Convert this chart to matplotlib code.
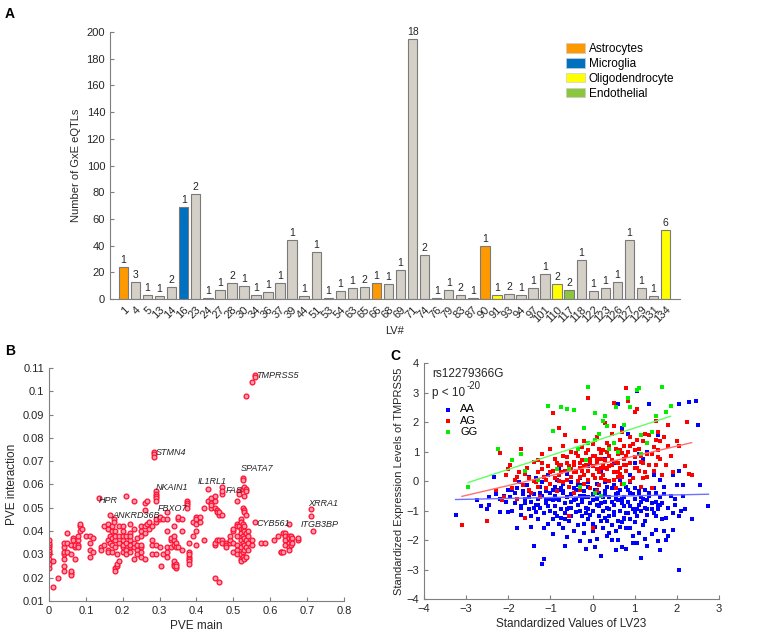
import numpy as np
import matplotlib.pyplot as plt
from matplotlib.patches import Patch

plt.rcParams['font.family'] = ['Liberation Sans', 'DejaVu Sans']
plt.rcParams['font.size'] = 8

# ---- panel A data ----
lv_ids = ['1', '4', '5', '13', '14', '16', '23', '24', '27', '28', '30', '34', '36', '37', '39',
          '44', '51', '53', '54', '63', '65', '66', '68', '69', '71', '74', '76', '79', '83', '87',
          '90', '91', '93', '94', '97', '101', '110', '117', '118', '122', '123', '126', '127',
          '129', '131', '134']
n_eqtl = [24, 13, 3, 2, 9, 69, 79, 1, 7, 12, 10, 3, 5, 12, 44,
          2, 35, 1, 6, 8, 9, 12, 11, 22, 195, 33, 1, 7, 3, 1,
          40, 3, 4, 3, 8, 19, 11, 7, 29, 6, 8, 13, 44,
          8, 2, 52]
n_genes = [1, 3, 1, 1, 2, 1, 2, 1, 1, 2, 1, 1, 1, 1, 1,
           1, 1, 1, 1, 1, 2, 1, 1, 1, 18, 2, 1, 1, 2, 1,
           1, 1, 2, 1, 1, 1, 2, 2, 1, 1, 1, 1, 1,
           1, 1, 6]
cell_type = {'1': 'Astrocytes', '16': 'Microglia', '53': 'Endothelial', '66': 'Astrocytes',
             '87': 'Astrocytes', '90': 'Astrocytes', '91': 'Oligodendrocyte',
             '110': 'Oligodendrocyte', '117': 'Endothelial', '134': 'Oligodendrocyte'}
type_names = ['Astrocytes', 'Microglia', 'Oligodendrocyte', 'Endothelial']
type_colors = {'Astrocytes': '#ff9900', 'Microglia': '#0070c0',
               'Oligodendrocyte': '#ffff00', 'Endothelial': '#8cc63f'}

# ---- panel B data (PVE main, PVE interaction) ----
pve_main = [0.0, 0.0, 0.0, 0.0, 0.0, 0.0, 0.0, 0.0, 0.0, 0.0, 0.01, 0.01, 0.025,
            0.04, 0.04, 0.04, 0.04, 0.04, 0.04, 0.04, 0.05, 0.05, 0.05,
            0.06, 0.06, 0.06, 0.06, 0.06, 0.065, 0.065, 0.07, 0.07, 0.07,
            0.08, 0.08, 0.08, 0.08, 0.085, 0.085, 0.085, 0.09, 0.1,
            0.11, 0.11, 0.11, 0.11, 0.12, 0.12, 0.135, 0.14, 0.14, 0.15, 0.15,
            0.16, 0.16, 0.16, 0.16, 0.16, 0.165, 0.165, 0.165, 0.17, 0.17, 0.17, 0.17, 0.17,
            0.175, 0.175, 0.18, 0.18, 0.18, 0.18, 0.18, 0.18, 0.185, 0.185, 0.185,
            0.19, 0.19, 0.19, 0.19, 0.2, 0.2, 0.2, 0.2, 0.2, 0.2, 0.2,
            0.21, 0.21, 0.21, 0.21, 0.21, 0.22, 0.22, 0.22, 0.22, 0.22, 0.22, 0.22,
            0.23, 0.23, 0.23, 0.23, 0.23, 0.24, 0.24, 0.24, 0.24,
            0.25, 0.25, 0.25, 0.25, 0.25, 0.25, 0.25, 0.26, 0.26, 0.26, 0.26, 0.26,
            0.265, 0.265, 0.27, 0.27, 0.28, 0.28, 0.28, 0.28, 0.285, 0.285, 0.285,
            0.29, 0.29, 0.29, 0.29, 0.29, 0.29, 0.29, 0.29, 0.29, 0.3, 0.3, 0.3, 0.305,
            0.31, 0.31, 0.32, 0.32, 0.32, 0.32, 0.32, 0.32, 0.33, 0.33, 0.33,
            0.34, 0.34, 0.34, 0.34, 0.34, 0.34, 0.34, 0.345, 0.345, 0.345, 0.345, 0.345,
            0.35, 0.35, 0.35, 0.36, 0.36, 0.36, 0.375, 0.375, 0.375, 0.375,
            0.38, 0.38, 0.38, 0.38, 0.38, 0.38, 0.38, 0.39, 0.39,
            0.4, 0.4, 0.4, 0.4, 0.4, 0.41, 0.41, 0.42, 0.42, 0.43, 0.43,
            0.44, 0.44, 0.44, 0.44, 0.45, 0.45, 0.45, 0.45, 0.45, 0.45, 0.455, 0.455, 0.455,
            0.46, 0.46, 0.46, 0.46, 0.47, 0.47, 0.47, 0.47, 0.47, 0.47, 0.48, 0.48, 0.48,
            0.49, 0.49, 0.49, 0.5, 0.5, 0.5, 0.5,
            0.51, 0.51, 0.51, 0.51, 0.51, 0.51, 0.51, 0.515, 0.515, 0.515,
            0.52, 0.52, 0.52, 0.52, 0.52, 0.52, 0.52, 0.52, 0.52,
            0.525, 0.525, 0.525, 0.525, 0.525, 0.525, 0.525, 0.525, 0.525, 0.525,
            0.53, 0.53, 0.53, 0.53, 0.53, 0.53, 0.53, 0.53, 0.53, 0.53,
            0.535, 0.535, 0.535, 0.535, 0.535, 0.535, 0.535, 0.535,
            0.54, 0.54, 0.54, 0.54, 0.55, 0.55, 0.55, 0.56, 0.56, 0.56,
            0.575, 0.585, 0.61, 0.62, 0.63, 0.63, 0.635, 0.635,
            0.64, 0.64, 0.64, 0.64, 0.65, 0.65, 0.65, 0.65, 0.65, 0.65,
            0.655, 0.655, 0.655, 0.66, 0.66, 0.675, 0.675, 0.71, 0.71, 0.715]
pve_inter = [0.024, 0.026, 0.028, 0.03, 0.031, 0.032, 0.033, 0.034, 0.035, 0.036, 0.016, 0.027, 0.02,
             0.023, 0.025, 0.028, 0.03, 0.031, 0.033, 0.035, 0.035, 0.031, 0.039,
             0.034, 0.03, 0.022, 0.021, 0.023, 0.037, 0.036, 0.028, 0.033, 0.034,
             0.036, 0.038, 0.034, 0.033, 0.042, 0.04, 0.043, 0.041, 0.038,
             0.038, 0.035, 0.029, 0.032, 0.031, 0.037, 0.054, 0.033, 0.032, 0.034, 0.042,
             0.041, 0.043, 0.036, 0.032, 0.031, 0.047, 0.038, 0.035, 0.04, 0.037, 0.034, 0.031, 0.042,
             0.045, 0.044, 0.024, 0.023, 0.036, 0.033, 0.04, 0.038, 0.025, 0.026, 0.03,
             0.027, 0.035, 0.042, 0.038, 0.031, 0.033, 0.034, 0.036, 0.038, 0.04, 0.042,
             0.055, 0.032, 0.035, 0.038, 0.03, 0.043, 0.039, 0.036, 0.033, 0.031, 0.034, 0.038,
             0.053, 0.028, 0.041, 0.033, 0.035, 0.032, 0.034, 0.03, 0.037,
             0.042, 0.04, 0.038, 0.033, 0.029, 0.031, 0.034, 0.052, 0.049, 0.042, 0.039, 0.028,
             0.053, 0.043, 0.044, 0.041, 0.042, 0.034, 0.03, 0.036, 0.074, 0.073, 0.072,
             0.057, 0.056, 0.055, 0.054, 0.053, 0.044, 0.045, 0.03, 0.034, 0.045, 0.046, 0.033, 0.025,
             0.045, 0.03, 0.048, 0.045, 0.04, 0.033, 0.031, 0.029, 0.033, 0.036, 0.037,
             0.034, 0.026, 0.025, 0.027, 0.036, 0.038, 0.042, 0.026, 0.024, 0.025, 0.035, 0.033,
             0.045, 0.046, 0.033, 0.045, 0.032, 0.04, 0.053, 0.052, 0.051, 0.05,
             0.035, 0.031, 0.029, 0.028, 0.027, 0.026, 0.03, 0.044, 0.038,
             0.046, 0.045, 0.043, 0.04, 0.034, 0.044, 0.046, 0.05, 0.036, 0.058, 0.053,
             0.054, 0.052, 0.05, 0.051, 0.053, 0.05, 0.055, 0.034, 0.035, 0.02, 0.049, 0.048, 0.036,
             0.018, 0.036, 0.047, 0.048, 0.059, 0.056, 0.057, 0.047, 0.036, 0.035, 0.035, 0.034, 0.033,
             0.035, 0.036, 0.038, 0.031, 0.035, 0.04, 0.041,
             0.053, 0.043, 0.042, 0.038, 0.034, 0.032, 0.03, 0.057, 0.056, 0.042,
             0.045, 0.044, 0.041, 0.039, 0.036, 0.033, 0.028, 0.027, 0.03,
             0.063, 0.062, 0.058, 0.05, 0.043, 0.041, 0.038, 0.035, 0.031, 0.029,
             0.059, 0.055, 0.049, 0.048, 0.042, 0.04, 0.037, 0.034, 0.032, 0.028,
             0.098, 0.058, 0.057, 0.047, 0.039, 0.036, 0.033, 0.029,
             0.04, 0.038, 0.035, 0.032, 0.104, 0.034, 0.036, 0.107, 0.106, 0.044,
             0.035, 0.035, 0.036, 0.038, 0.031, 0.031, 0.039, 0.031,
             0.039, 0.038, 0.036, 0.034, 0.043, 0.038, 0.037, 0.035, 0.033, 0.032,
             0.038, 0.036, 0.034, 0.037, 0.035, 0.036, 0.037, 0.0495, 0.0465, 0.04]
gene_names = ['TMPRSS5', 'STMN4', 'SPATA7', 'IL1RL1', 'FAS', 'NKAIN1', 'HPR', 'FBXO7',
              'ANKRD36B', 'XRRA1', 'CYB561', 'ITGB3BP']
gene_x = [0.563, 0.289, 0.519, 0.403, 0.479, 0.290, 0.136, 0.294, 0.171, 0.703, 0.564, 0.682]
gene_y = [0.1066, 0.0737, 0.0668, 0.0615, 0.0575, 0.0589, 0.0532, 0.0499, 0.0468, 0.0518, 0.0432, 0.0428]

# ---- panel C data (LV23 value, TMPRSS5 expression) ----
aa_x = [-3.25, -2.75, -2.65, -2.45, -2.45, -2.35, -2.2, -2.1, -2.05, -2.0, -1.95, -1.9, -1.85, -1.8,
        -1.8, -1.75, -1.7, -1.7, -1.65, -1.6, -1.6, -1.55, -1.5, -1.5, -1.45, -1.45, -1.4, -1.4, -1.35,
        -1.35, -1.3, -1.3, -1.25, -1.25, -1.2, -1.2, -1.15, -1.15, -1.1, -1.1, -1.05, -1.05, -1.0, -1.0,
        -0.95, -0.95, -0.9, -0.9, -0.85, -0.85, -0.8, -0.8, -0.75, -0.75, -0.7, -0.7, -0.65, -0.65,
        -0.6, -0.6, -0.55, -0.55, -0.5, -0.5, -0.45, -0.45, -0.4, -0.4, -0.35, -0.35, -0.3, -0.3,
        -0.25, -0.25, -0.2, -0.2, -0.15, -0.15, -0.1, -0.1, -0.05, -0.05, 0.0, 0.0, 0.05, 0.05,
        0.1, 0.1, 0.15, 0.15, 0.2, 0.2, 0.25, 0.25, 0.3, 0.3, 0.35, 0.35, 0.4, 0.4, 0.45, 0.45,
        0.5, 0.5, 0.55, 0.55, 0.6, 0.6, 0.65, 0.65, 0.7, 0.7, 0.75, 0.75, 0.8, 0.8, 0.85, 0.85,
        0.9, 0.9, 0.95, 0.95, 1.0, 1.0, 1.05, 1.05, 1.1, 1.1, 1.15, 1.15, 1.2, 1.2, 1.25, 1.25,
        1.3, 1.3, 1.35, 1.4, 1.4, 1.45, 1.5, 1.5, 1.55, 1.6, 1.6, 1.65, 1.7, 1.7, 1.75, 1.8, 1.8,
        1.85, 1.9, 1.95, 2.0, 2.05, 2.05, 2.1, 2.15, 2.2, 2.35, 2.55, 2.75,
        -0.1, 0.2, 0.5, 0.65, 0.9, 1.0, 1.2, 1.3, 1.45, 1.1, 0.7, 0.6, 1.05, 1.35, 2.05, 2.3,
        2.45, 2.5, 0.85, 1.55, -0.4, -0.8, -1.5, 2.05, 2.15, 1.9, 1.6, 0.3,
        -0.9, -0.7, -0.5, -0.3, -0.1, 0.1, 0.3, 0.5, 0.7, 0.9, -0.95, -0.6, -0.2, 0.0, 0.3, 0.6,
        0.9, 1.1, -0.5, -0.1, 0.2, 0.4, 0.7, 1.0, 1.3, 1.5, -1.2, -1.6, -1.8, -2.2, -2.0, -0.3,
        0.45, 0.1, -0.65, 0.8, 1.55, 0.95,
        -1.9, -1.7, -1.5, -1.3, -1.1, -0.9, -0.7, -0.5, -0.3, -0.1, 0.1, 0.3, 0.5, 0.7, 0.9, 1.1,
        1.3, 1.5, 1.7, 1.9,
        -1.85, -1.65, -1.45, -1.25, -1.05, -0.85, -0.65, -0.45, -0.25, -0.05, 0.15, 0.35, 0.55, 0.75,
        0.95, 1.15, 1.35, 1.55, 1.75, 1.95,
        -1.55, -1.35, -1.15, -0.95, -0.75, -0.55, -0.35, -0.15, 0.05, 0.25, 0.45, 0.65, 0.85, 1.05,
        1.25, 1.45, 1.65, 0.0, 0.4, 0.8,
        -1.0, -0.6, -0.2, 0.2, 0.6, 1.0, 1.4, -1.4, -0.8, -0.4, 0.0, 0.35, 0.75, 1.15, 1.6, -2.3,
        -2.5, -0.15, 0.55, 1.25]
aa_y = [-1.15, -0.65, -0.85, -0.55, -0.8, 0.15, -0.6, -0.5, -0.7, -1.05, -0.55, -1.0, -0.4, -1.6,
        -0.25, -0.05, -0.85, -1.15, -0.45, -0.6, -1.25, -0.15, -0.95, -0.35, -1.55, -0.7, -2.2, -0.45, -1.05,
        0.1, -0.6, -1.3, -0.2, -0.9, -2.8, -0.5, -2.65, -1.1, -0.35, -0.75, -1.45, 0.2, -0.6, -1.0,
        -0.3, -1.8, -0.85, -0.5, -1.2, 0.05, -0.65, -1.45, -0.25, -0.95, -1.6, -0.4, -0.75, -1.1,
        -0.55, 0.25, -1.35, -0.2, -0.9, -0.45, -1.7, -0.65, -1.05, -0.3, -0.8, -1.5, -0.5, 0.1,
        -1.2, -0.7, -0.35, -1.75, -0.9, -0.55, -1.3, -0.2, -2.05, -0.75, -1.0, -0.45, -2.25, -1.55,
        -0.6, -0.3, -1.2, -0.85, -2.55, -0.5, -1.6, -1.0, -0.35, -0.7, -1.35, -1.85, -0.55, -0.95, -1.5, -0.25,
        -0.8, -1.15, -0.45, -1.7, -0.65, -2.0, -1.0, -0.3, -1.4, -2.25, -0.55, -0.85, -1.6, -0.2, -1.1, -0.7,
        -0.4, -1.3, -0.95, -1.85, -0.6, -0.25, -2.1, -1.2, -0.8, -0.45, -2.6, -1.0, -0.6, -1.5, -0.3, -0.9,
        -1.15, -2.2, -0.5, -0.75, -1.8, -1.1, -0.4, -1.65, -0.85, -2.35, -0.55, -1.3, -1.7, -0.2, -2.0, -0.9, -1.85,
        -0.5, -1.65, -0.8, -0.15, -3.0, -1.2, -1.0, -0.5, -0.95, -1.3, -0.15, -0.85,
        0.5, 0.3, 0.6, 0.05, 0.2, 0.6, 0.75, 1.0, 0.2, 0.9, 1.8, 2.6, 3.05, 2.6, 2.62, 2.68,
        2.72, 1.9, 1.6, 1.55, 0.35, 0.4, 0.15, 0.35, -0.15, 0.2, 0.05, 0.75,
        -0.2, -0.1, -0.05, -0.15, -0.05, -0.1, -0.05, -0.15, -0.1, -0.05, -1.3, -1.9, -1.45, -1.7, -1.25, -1.35,
        -1.6, -1.75, -1.2, -0.95, -0.75, -1.2, -0.75, -1.05, -0.65, -1.2, -0.05, -0.75, -0.6, -1.05, -0.3, -2.05,
        -2.0, -1.95, -2.2, -2.3, -2.05, -2.1,
        -0.3, -0.9, -0.55, -0.8, -0.6, -1.1, -0.35, -0.7, -1.0, -0.55, -0.8, -0.45, -1.05, -0.6, -0.85, -0.35,
        -0.95, -0.7, -0.45, -1.1,
        -0.75, -0.35, -1.2, -0.4, -0.85, -0.6, -1.3, -0.25, -0.6, -1.15, -0.4, -0.9, -0.6, -1.25,
        -0.45, -0.7, -0.4, -0.95, -1.25, -0.6,
        -0.15, -0.8, -1.6, -0.65, -1.25, -0.9, -0.15, -1.1, -0.3, -0.55, -0.7, -1.55, -0.3, -0.95,
        -1.35, -0.25, -0.75, -1.45, -1.75, -1.1,
        -0.4, -0.95, -0.5, -1.35, -0.4, -1.4, -0.95, -0.9, -0.3, -0.6, -0.65, -0.2, -1.3, -0.55, -0.8, -0.45,
        -0.95, -2.3, -2.35, -1.95]
ag_x = [-3.1, -2.5, -2.3, -2.2, -2.15, -2.1, -2.05, -1.95, -1.9, -1.85, -1.8, -1.75, -1.7, -1.65,
        -1.6, -1.55, -1.5, -1.45, -1.4, -1.35, -1.3, -1.25, -1.2, -1.15, -1.1, -1.05, -1.0, -1.0,
        -0.95, -0.95, -0.9, -0.85, -0.8, -0.8, -0.75, -0.7, -0.7, -0.65, -0.65, -0.6, -0.55, -0.55,
        -0.5, -0.5, -0.45, -0.45, -0.4, -0.4, -0.35, -0.35, -0.3, -0.3, -0.25, -0.25, -0.2, -0.2,
        -0.15, -0.15, -0.1, -0.1, -0.05, -0.05, 0.0, 0.0, 0.05, 0.05, 0.1, 0.1, 0.15, 0.15, 0.2, 0.2,
        0.25, 0.25, 0.3, 0.3, 0.35, 0.35, 0.4, 0.4, 0.45, 0.45, 0.5, 0.5, 0.5, 0.55, 0.55, 0.6, 0.6,
        0.65, 0.65, 0.7, 0.7, 0.75, 0.75, 0.8, 0.8, 0.85, 0.85, 0.9, 0.9, 0.95, 0.95, 1.0, 1.0,
        1.05, 1.05, 1.1, 1.15, 1.15, 1.2, 1.25, 1.3, 1.35, 1.35, 1.4, 1.45, 1.5, 1.5, 1.55, 1.55,
        1.6, 1.65, 1.75, 1.8, 1.85, 1.9, 2.0, 2.05, 2.2, 2.25, 2.3, 2.35,
        -0.6, -0.3, 0.0, 0.2, 0.4, 0.6, 0.8, 1.0, -0.8, -1.2, 0.1, 0.3, 0.55, 0.9, 1.2, -0.1,
        -0.45, 0.65, 0.15, -0.2, 0.0, -0.55,
        -1.6, -1.4, -1.2, -1.0, -0.8, -0.6, -0.4, -0.2, 0.0, 0.2, 0.4, 0.6, 0.8, 1.0, 1.2, 1.4,
        1.6, 1.8, 0.1, 0.7,
        -1.5, -1.3, -1.1, -0.9, -0.7, -0.5, -0.3, -0.1, 0.1, 0.3, 0.5, 0.7, 0.9, 1.1, 1.3, 1.5,
        1.7, -0.75, 0.45, 1.25,
        -2.0, -1.8, -1.3, -0.85, -0.45, -0.05, 0.35, 0.75, 1.15, 1.55, -0.25, 0.25, 0.65, 1.05, 1.45]
ag_y = [-1.5, -1.35, -0.3, 0.95, -0.65, -0.55, 0.2, 0.55, -0.25, 0.05, -0.6, 0.3, 1.1, -0.15,
        -1.25, 0.45, 0.1, -0.4, 0.65, -0.05, 0.3, -0.55, 0.9, 0.15, -0.25, 0.5, 1.1, -0.1,
        0.35, 2.3, 0.75, -0.35, 0.2, 1.8, 0.55, -0.05, 1.2, 0.35, 1.55, 0.8, -0.2, 0.5,
        0.15, 1.0, 0.65, -0.4, 0.3, 1.35, 0.0, 0.85, 0.45, -0.3, 0.7, 1.15, 0.2, -0.1,
        0.55, 0.95, 2.8, 0.35, 0.75, -0.25, 0.5, 1.25, 0.1, 0.85, 0.6, 1.5, 0.3, -0.15, 0.95, 0.45,
        1.05, 0.2, 0.7, 1.95, 0.4, 1.3, 0.0, 0.85, 0.55, 1.6, 1.85, 0.3, 2.65, 1.1, 0.65, 0.15, 0.9,
        1.4, 0.45, 1.65, -0.1, 0.75, 1.2, 3.15, 0.35, 2.7, 1.0, 0.6, 1.5, 0.1, 1.25, 2.35, 0.8,
        2.45, 0.45, 1.1, -0.2, 0.65, 1.35, 0.3, 0.9, 1.55, 0.55, -0.25, 1.15, 1.4, 2.05, 1.65, 0.8,
        1.35, 0.2, 0.55, 1.9, 0.85, 0.3, 1.35, 1.2, 0.5, 2.0, 0.25, 0.2,
        0.05, 0.6, 0.2, 0.75, 0.5, 0.6, 0.85, 0.45, 0.55, 0.4, -0.35, 0.05, -0.25, 0.0, 0.1, 0.05,
        0.3, 1.05, 1.1, 1.35, -1.6, -1.2,
        0.25, 0.0, 0.6, 0.3, 0.0, 0.6, 0.95, 0.5, 0.85, 0.1, 1.2, 0.3, 0.55, 1.05, 0.6, 0.9,
        0.75, 1.2, 0.4, 0.15,
        -0.3, 0.7, 0.05, 0.1, 0.85, 0.4, 0.15, 1.05, 0.75, 0.45, 0.05, 0.95, 1.2, 0.35, 0.15, 0.55,
        1.5, 0.3, 0.7, 1.6,
        0.4, 0.15, -0.2, 0.6, 0.55, 0.6, 1.0, 0.55, 0.85, 1.05, 0.35, 0.55, 0.25, 1.4, 0.35]
gg_x = [-2.95, -2.25, -1.9, -1.7, -1.6, -1.3, -1.05, -0.95, -0.75, -0.6, -0.45, -0.35, -0.2, -0.1,
        -0.1, 0.05, 0.05, 0.15, 0.25, 0.3, 0.35, 0.4, 0.55, 0.6, 0.75, 0.85, 0.9, 1.05, 1.1, 1.15,
        1.3, 1.4, 1.5, 1.65, 1.75, 1.85, -0.55, -0.3, 0.05, 0.2, -0.15, 0.75, 1.15, 0.5, -0.85]
gg_y = [-0.2, 1.1, 0.7, 0.9, 0.35, 0.05, 2.55, 1.7, 2.5, 2.45, 2.4, 1.1, 1.8, 3.2,
        1.3, 1.4, 2.3, 1.6, 2.05, 2.2, 1.85, 1.1, 2.5, 1.0, 1.9, 2.8, 2.5, 3.1, 3.15, 1.55,
        1.3, 1.65, 2.2, 3.2, 2.35, 2.55, 0.4, -0.2, -0.4, -0.5, 0.7, -0.1, 0.9, 1.3, 0.4]
# regression lines: slope, intercept
fit_coef = {'AA': (0.03, -0.53), 'AG': (0.334, 0.515), 'GG': (0.468, 1.33)}

gray_axis = '#7f7f7f'
txt = '#262626'


def style_axes(ax):
    for s in ['top', 'right']:
        ax.spines[s].set_visible(False)
    for s in ['left', 'bottom']:
        ax.spines[s].set_color(gray_axis)
        ax.spines[s].set_linewidth(0.8)
    ax.tick_params(direction='in', length=3, width=0.8, color=gray_axis,
                   labelcolor=txt, labelsize=8)


fig = plt.figure(figsize=(7.57, 6.33), dpi=100)

# ---------------- A ----------------
axA = fig.add_axes([0.1453, 0.5276, 0.753, 0.4218])
pos = np.arange(len(lv_ids))
bar_colors = [type_colors.get(cell_type.get(k), '#d4d0c8') for k in lv_ids]
axA.bar(pos, n_eqtl, width=0.78, color=bar_colors, edgecolor='#7a7a7a', linewidth=0.8)
for p, v, g in zip(pos, n_eqtl, n_genes):
    axA.text(p, v + 1.5, str(g), ha='center', va='bottom', fontsize=7.5, color=txt)
axA.set_xlim(-1.12, len(lv_ids) - 1 + 1.2)
axA.set_ylim(0, 200)
axA.set_yticks(range(0, 201, 20))
axA.set_xticks(pos)
axA.set_xticklabels(lv_ids, rotation=45, ha='right', va='top', rotation_mode='anchor', fontsize=7.5)
style_axes(axA)
axA.tick_params(axis='x', length=0, pad=4)
axA.set_ylabel('Number of GxE eQTLs', fontsize=8, color=txt, labelpad=4)
axA.set_xlabel('LV#', fontsize=8, color=txt, labelpad=1)
handles = [Patch(facecolor=type_colors[t], edgecolor='#cccccc', linewidth=0.5, label=t)
           for t in type_names]
axA.legend(handles=handles, loc='upper left', bbox_to_anchor=(561 / 757, 1 - 38 / 633),
           bbox_transform=fig.transFigure, frameon=False, fontsize=8.5, handlelength=1.6,
           handleheight=0.9, handletextpad=0.35, labelspacing=0.25, borderaxespad=0)

# ---------------- B ----------------
axB = fig.add_axes([0.0647, 0.0506, 0.3897, 0.368])
axB.scatter(pve_main, pve_inter, s=12, facecolor='#ff9aae', edgecolor='#ff1030',
            linewidth=0.9, zorder=2)
for name, gx, gy in zip(gene_names, gene_x, gene_y):
    axB.text(gx, gy, name, fontsize=6.5, style='italic', color=txt, ha='left', va='center')
axB.set_xlim(0, 0.8)
axB.set_ylim(0.01, 0.11)
axB.set_xticks(np.arange(0, 0.81, 0.1))
axB.set_xticklabels(['0', '0.1', '0.2', '0.3', '0.4', '0.5', '0.6', '0.7', '0.8'])
axB.set_yticks(np.arange(0.01, 0.111, 0.01))
axB.set_yticklabels(['0.01', '0.02', '0.03', '0.04', '0.05', '0.06', '0.07', '0.08', '0.09',
                     '0.1', '0.11'])
style_axes(axB)
axB.set_xlabel('PVE main', fontsize=8.5, color=txt, labelpad=3)
axB.set_ylabel('PVE interaction', fontsize=8.5, color=txt, labelpad=3)

# ---------------- C ----------------
axC = fig.add_axes([0.5601, 0.0537, 0.3897, 0.3728])
groups = [('AA', aa_x, aa_y, '#0000ff', '#7070ff'),
          ('AG', ag_x, ag_y, '#ff0000', '#ff7070'),
          ('GG', gg_x, gg_y, '#00ee00', '#60ff60')]
for lab, gx, gy, col, lcol in groups:
    axC.scatter(gx, gy, s=6, marker='s', color=col, linewidth=0, label=lab, zorder=2)
for lab, gx, gy, col, lcol in groups:
    k, b = fit_coef[lab]
    xs = np.array([min(gx), max(gx)])
    axC.plot(xs, k * xs + b, color=lcol, linewidth=1.0, zorder=3)
axC.set_xlim(-4, 3)
axC.set_ylim(-4, 4)
axC.set_xticks(range(-4, 4))
axC.set_yticks(range(-4, 5))
style_axes(axC)
axC.text(-3.8, 3.63, 'rs12279366G', fontsize=8.5, color=txt, va='center')
axC.text(-3.8, 3.0, 'p < 10', fontsize=8.5, color=txt, va='center')
axC.text(-3.0, 3.22, '-20', fontsize=7, color=txt, va='center')
axC.legend(loc='upper left', bbox_to_anchor=(437 / 757, 1 - 400 / 633),
           bbox_transform=fig.transFigure, frameon=False, fontsize=8,
           markerscale=1.0, handlelength=1.2, handletextpad=0.5, labelspacing=0.12,
           borderaxespad=0, scatterpoints=1)
axC.set_xlabel('Standardized Values of LV23', fontsize=8.5, color=txt, labelpad=3)
axC.set_ylabel('Standardized Expression Levels of TMPRSS5', fontsize=8, color=txt, labelpad=2)

fig.text(5 / 757, 1 - 18 / 633, 'A', fontsize=10, fontweight='bold')
fig.text(5 / 757, 1 - 355 / 633, 'B', fontsize=10, fontweight='bold')
fig.text(390 / 757, 1 - 360 / 633, 'C', fontsize=10, fontweight='bold')

fig.savefig('out.png', dpi=100)
